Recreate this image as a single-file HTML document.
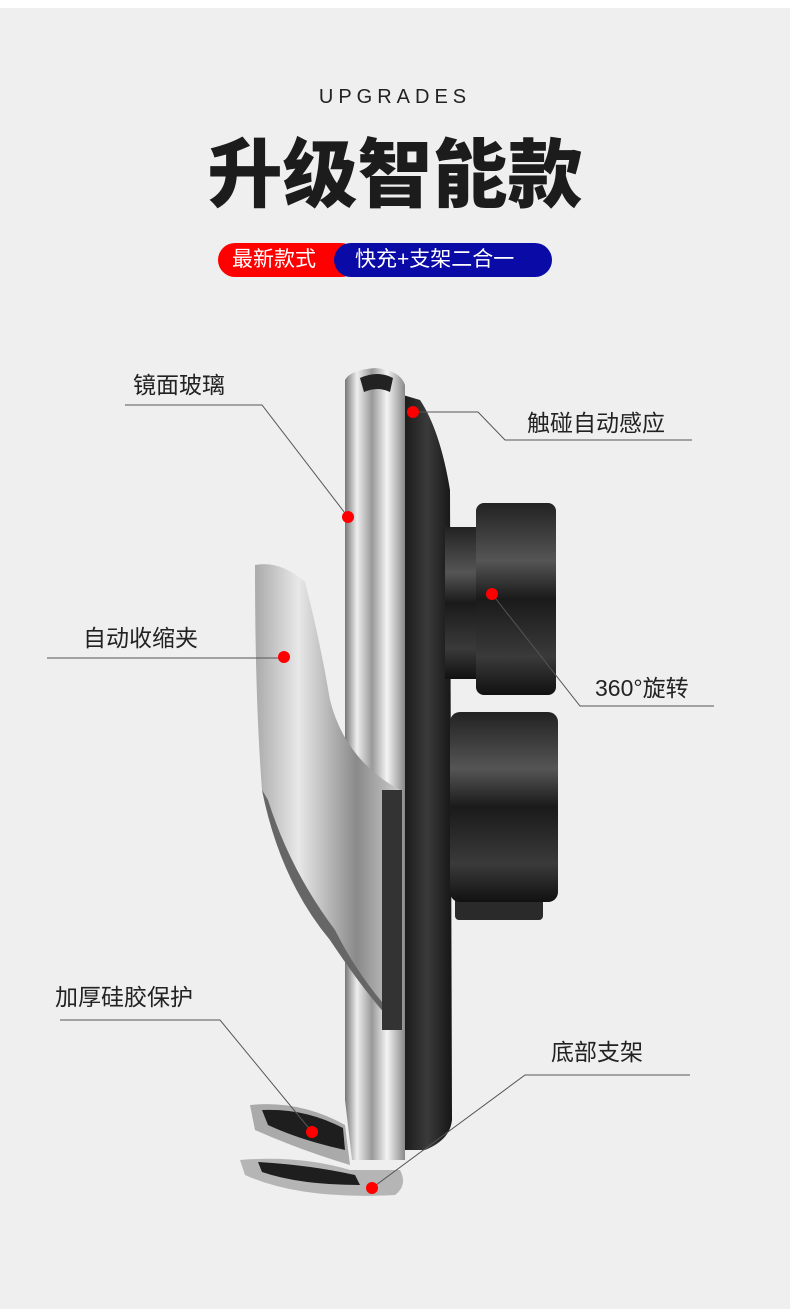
<!DOCTYPE html>
<html><head><meta charset="utf-8"><style>
html,body{margin:0;padding:0;background:#efefef;}
body{width:790px;height:1309px;position:relative;overflow:hidden;font-family:"Liberation Sans","Noto Sans CJK SC",sans-serif;}
.t{position:absolute;color:#222;}
</style></head><body>
<div style="position:absolute;left:0;top:0;width:790px;height:8px;background:#fff"></div>
<div class="t" style="left:0;width:790px;top:86px;text-align:center;font-size:20px;letter-spacing:5px;">UPGRADES</div>
<div class="t" style="left:0;width:790px;top:130px;text-align:center;font-size:75px;font-weight:900;line-height:90px;color:#1c1c1c;">升级智能款</div>
<div style="position:absolute;left:218px;top:243px;width:140px;height:34px;background:#f00;border-radius:17px;"></div>
<div style="position:absolute;left:334px;top:243px;width:218px;height:34px;background:#0a0aa6;border-radius:17px;"></div>
<div class="t" style="left:232px;top:247px;font-size:21px;color:#fff;line-height:26px;">最新款式</div>
<div class="t" style="left:355px;top:247px;font-size:21px;color:#fff;line-height:26px;">快充+支架二合一</div>

<svg width="790" height="1309" style="position:absolute;left:0;top:0">
<defs>
<linearGradient id="sil" x1="0" x2="1" y1="0" y2="0">
<stop offset="0" stop-color="#777"/><stop offset=".2" stop-color="#eee"/><stop offset=".45" stop-color="#999"/><stop offset=".7" stop-color="#f4f4f4"/><stop offset="1" stop-color="#888"/></linearGradient>
<linearGradient id="sil2" x1="0" x2="1" y1="0" y2="0">
<stop offset="0" stop-color="#aaa"/><stop offset=".3" stop-color="#e8e8e8"/><stop offset=".7" stop-color="#8a8a8a"/><stop offset="1" stop-color="#ccc"/></linearGradient>
<linearGradient id="blk" x1="0" x2="0" y1="0" y2="1">
<stop offset="0" stop-color="#222"/><stop offset=".3" stop-color="#555"/><stop offset=".5" stop-color="#1a1a1a"/><stop offset=".8" stop-color="#3a3a3a"/><stop offset="1" stop-color="#111"/></linearGradient>
<linearGradient id="blkh" x1="0" x2="1" y1="0" y2="0">
<stop offset="0" stop-color="#1a1a1a"/><stop offset=".5" stop-color="#3a3a3a"/><stop offset="1" stop-color="#161616"/></linearGradient>
</defs>
<path d="M403 395 L420 400 Q440 430 450 490 L452 1120 Q450 1140 425 1150 L405 1150 Z" fill="url(#blkh)"/>
<rect x="445" y="527" width="36" height="152" fill="url(#blk)"/>
<rect x="476" y="503" width="80" height="192" rx="8" fill="url(#blk)"/>
<rect x="455" y="885" width="88" height="35" rx="4" fill="#2a2a2a"/>
<rect x="450" y="712" width="108" height="190" rx="10" fill="url(#blk)"/>
<path d="M345 380 Q350 370 375 368 Q400 370 405 385 L405 1160 L352 1160 L345 1100 Z" fill="url(#sil)"/>
<path d="M360 378 Q378 370 393 378 L390 392 Q378 386 364 392 Z" fill="#222"/>
<path d="M255 565 Q280 560 305 582 Q320 640 330 700 Q345 760 400 790 L400 1030 Q370 1000 330 940 Q280 880 262 790 Q255 700 255 565 Z" fill="url(#sil2)"/>
<path d="M262 790 Q280 880 330 940 Q370 1000 400 1030 L398 1020 Q360 980 335 930 Q290 870 268 800 Z" fill="#666"/>
<rect x="382" y="790" width="20" height="240" fill="#333"/>
<path d="M250 1105 Q300 1100 345 1125 L350 1165 Q300 1150 255 1130 Z" fill="#aaa"/>
<path d="M262 1110 Q305 1108 343 1128 L345 1150 Q300 1140 268 1125 Z" fill="#1e1e1e"/>
<path d="M240 1160 Q300 1155 350 1170 L400 1170 Q408 1185 395 1195 Q300 1200 245 1175 Z" fill="#b5b5b5"/>
<path d="M258 1162 Q310 1165 355 1175 L360 1185 Q300 1185 262 1172 Z" fill="#1e1e1e"/>
<g stroke="#555" stroke-width="1" fill="none">
<polyline points="125,405 262,405 348,517"/>
<polyline points="413,412 478,412 505,440 692,440"/>
<polyline points="47,658 284,658"/>
<polyline points="492,594 580,706 714,706"/>
<polyline points="60,1020 220,1020 312,1132"/>
<polyline points="690,1075 525,1075 372,1188"/>
</g>
<g fill="#f00">
<circle cx="413" cy="412" r="6"/><circle cx="348" cy="517" r="6"/><circle cx="492" cy="594" r="6"/>
<circle cx="284" cy="657" r="6"/><circle cx="312" cy="1132" r="6"/><circle cx="372" cy="1188" r="6"/>
</g>
</svg>
<div class="t" style="left:133px;top:366px;font-size:23px;">镜面玻璃</div>
<div class="t" style="left:527px;top:404px;font-size:23px;">触碰自动感应</div>
<div class="t" style="left:83px;top:619px;font-size:23px;">自动收缩夹</div>
<div class="t" style="left:595px;top:669px;font-size:23px;">360°旋转</div>
<div class="t" style="left:55px;top:978px;font-size:23px;">加厚硅胶保护</div>
<div class="t" style="left:551px;top:1033px;font-size:23px;">底部支架</div>
</body></html>
